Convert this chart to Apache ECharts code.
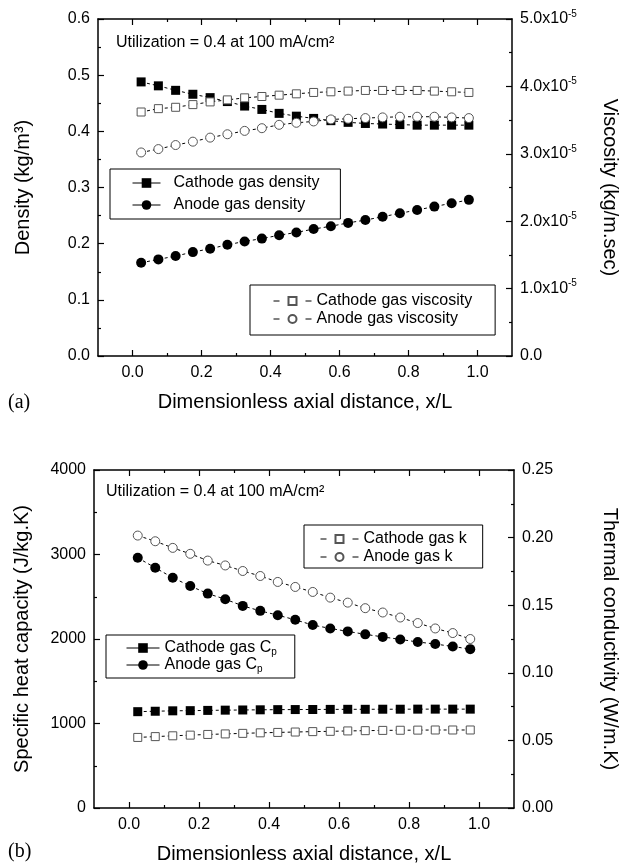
<!DOCTYPE html>
<html>
<head>
<meta charset="utf-8">
<script src="https://cdn.jsdelivr.net/npm/echarts@6/dist/echarts.min.js"></script>
<style>
html, body { margin: 0; padding: 0; background: #fff; }
#chart { width: 628px; height: 866px; }
</style>
</head>
<body>
<div id="chart"></div>
<script>
// x/L positions of the measured points
var xPos = [0.025, 0.075, 0.125, 0.175, 0.225, 0.275, 0.325, 0.375, 0.425, 0.475,
            0.525, 0.575, 0.625, 0.675, 0.725, 0.775, 0.825, 0.875, 0.925, 0.975];

// (a) density (kg/m3) and viscosity (kg/m.sec)
var cathodeDensity = [0.488, 0.481, 0.473, 0.466, 0.460, 0.453, 0.445, 0.439, 0.432, 0.427,
                      0.423, 0.419, 0.416, 0.414, 0.413, 0.412, 0.411, 0.411, 0.411, 0.411];
var anodeDensity = [0.166, 0.172, 0.178, 0.185, 0.191, 0.198, 0.204, 0.209, 0.215, 0.220,
                    0.226, 0.231, 0.237, 0.242, 0.248, 0.254, 0.260, 0.266, 0.272, 0.278];
var cathodeVisc = [3.62e-5, 3.67e-5, 3.69e-5, 3.73e-5, 3.77e-5, 3.80e-5, 3.83e-5, 3.85e-5, 3.87e-5, 3.89e-5,
                   3.91e-5, 3.92e-5, 3.93e-5, 3.94e-5, 3.94e-5, 3.94e-5, 3.94e-5, 3.93e-5, 3.92e-5, 3.91e-5];
var anodeVisc = [3.02e-5, 3.07e-5, 3.13e-5, 3.18e-5, 3.24e-5, 3.29e-5, 3.34e-5, 3.38e-5, 3.43e-5, 3.46e-5,
                 3.48e-5, 3.51e-5, 3.52e-5, 3.53e-5, 3.54e-5, 3.55e-5, 3.55e-5, 3.55e-5, 3.54e-5, 3.53e-5];

// (b) specific heat (J/kg.K) and thermal conductivity (W/m.K)
var cathodeCp = [1140, 1145, 1150, 1152, 1155, 1158, 1160, 1162, 1164, 1165,
                 1166, 1167, 1168, 1168, 1169, 1169, 1170, 1170, 1170, 1170];
var anodeCp = [2961, 2843, 2725, 2627, 2537, 2471, 2392, 2333, 2282, 2227,
               2165, 2125, 2090, 2055, 2025, 1995, 1965, 1940, 1912, 1880];
var cathodeK = [0.0522, 0.0528, 0.0534, 0.0539, 0.0544, 0.0548, 0.0552, 0.0556, 0.0559, 0.0562,
                0.0565, 0.0567, 0.0570, 0.0572, 0.0574, 0.0575, 0.0576, 0.0577, 0.0577, 0.0577];
var anodeK = [0.2015, 0.1973, 0.1924, 0.1880, 0.1830, 0.1794, 0.1753, 0.1716, 0.1672, 0.1635,
              0.1598, 0.1556, 0.1519, 0.1478, 0.1446, 0.1409, 0.1368, 0.1328, 0.1294, 0.1250];

// tick positions on x
var xMajor = [0, 0.2, 0.4, 0.6, 0.8, 1.0];
var xMinor = [0.1, 0.3, 0.5, 0.7, 0.9];

var FONT = '"Liberation Sans", Arial, sans-serif';
var chart = echarts.init(document.getElementById('chart'));

function pts(vals) {
  return xPos.map(function (x, i) { return [x, vals[i]]; });
}

var axisLine = { show: true, onZero: false, lineStyle: { color: '#000', width: 1.5 } };
var noLine = { show: false, onZero: false };
var tickLine = { color: '#000', width: 1.2 };

// 4 x axes for each panel: bottom major/minor ticks, top major/minor ticks
function xAxes(g, name) {
  return [
    { type: 'value', gridIndex: g, position: 'bottom', min: -0.1, max: 1.1,
      axisLine: axisLine, splitLine: { show: false },
      axisTick: { inside: true, length: 6, customValues: xMajor, lineStyle: tickLine },
      axisLabel: { customValues: xMajor, margin: 9, color: '#000', fontSize: 16, fontFamily: FONT,
                   formatter: function (v) { return v.toFixed(1); } },
      name: name, nameLocation: 'middle', nameGap: 36,
      nameTextStyle: { color: '#000', fontSize: 20, fontFamily: FONT } },
    { type: 'value', gridIndex: g, position: 'bottom', min: -0.1, max: 1.1,
      axisLine: noLine, splitLine: { show: false }, axisLabel: { show: false },
      axisTick: { inside: true, length: 3, customValues: xMinor, lineStyle: tickLine } },
    { type: 'value', gridIndex: g, position: 'top', min: -0.1, max: 1.1,
      axisLine: axisLine, splitLine: { show: false }, axisLabel: { show: false },
      axisTick: { inside: true, length: 6, customValues: xMajor, lineStyle: tickLine } },
    { type: 'value', gridIndex: g, position: 'top', min: -0.1, max: 1.1,
      axisLine: noLine, splitLine: { show: false }, axisLabel: { show: false },
      axisTick: { inside: true, length: 3, customValues: xMinor, lineStyle: tickLine } }
  ];
}

function yAxis(g, pos, min, max, interval, fmt, name, gap, rich) {
  return {
    type: 'value', gridIndex: g, position: pos, min: min, max: max, interval: interval,
    axisLine: axisLine, splitLine: { show: false },
    axisTick: { inside: true, length: 6, lineStyle: tickLine },
    minorTick: { show: true, splitNumber: 2, length: 3, lineStyle: tickLine },
    axisLabel: { margin: 8, color: '#000', fontSize: 16, fontFamily: FONT, formatter: fmt, rich: rich },
    name: name, nameLocation: 'middle', nameGap: gap, nameRotate: pos === 'right' ? -90 : 90,
    nameTextStyle: { color: '#000', fontSize: 20, fontFamily: FONT }
  };
}

function filled(name, sym, size, xi, yi, vals) {
  return { name: name, type: 'line', xAxisIndex: xi, yAxisIndex: yi, data: pts(vals),
    symbol: sym, symbolSize: size, showAllSymbol: true,
    itemStyle: { color: '#000' },
    lineStyle: { color: '#000', width: 1, type: [3, 3] } };
}
function open(name, sym, size, xi, yi, vals) {
  return { name: name, type: 'line', xAxisIndex: xi, yAxisIndex: yi, data: pts(vals),
    symbol: sym, symbolSize: size, showAllSymbol: true,
    itemStyle: { color: '#fff', borderColor: '#555', borderWidth: 1 },
    lineStyle: { color: '#000', width: 1, type: [3, 3] } };
}

var legendText = { color: '#000', fontSize: 16, fontFamily: FONT, lineHeight: 18 };
var cpRich = {
  t: { fontSize: 16, fontFamily: FONT, color: '#000', lineHeight: 18 },
  s: { fontSize: 10, fontFamily: FONT, color: '#000', lineHeight: 8, verticalAlign: 'bottom' }
};

var option = {
  animation: false,
  backgroundColor: '#fff',
  grid: [
    { left: 98, top: 19, width: 422, height: 337 },
    { left: 94, top: 470, width: 423, height: 338 }
  ],
  xAxis: xAxes(0, 'Dimensionless axial distance, x/L').concat(xAxes(1, 'Dimensionless axial distance, x/L')),
  yAxis: [
    yAxis(0, 'left', 0, 0.6, 0.1, function (v) { return v.toFixed(1); }, 'Density (kg/m³)', 65),
    yAxis(0, 'right', 0, 5e-5, 1e-5, function (v) {
        return v === 0 ? '0.0' : '{n|' + (v * 1e5).toFixed(1) + 'x10}{s|-5}';
      }, 'Viscosity (kg/m.sec)', 88,
      { n: { fontSize: 16, fontFamily: FONT, color: '#000', lineHeight: 20 },
        s: { fontSize: 10, fontFamily: FONT, color: '#000', lineHeight: 12, verticalAlign: 'top' } }),
    yAxis(1, 'left', 0, 4000, 1000, function (v) { return String(v); }, 'Specific heat capacity (J/kg.K)', 62),
    yAxis(1, 'right', 0, 0.25, 0.05, function (v) { return v.toFixed(2); }, 'Thermal conductivity (W/m.K)', 86)
  ],
  legend: [
    { orient: 'vertical', left: 110, top: 169, padding: [5, 21, 5, 22], itemGap: 4,
      itemWidth: 28, itemHeight: 12, selectedMode: false,
      borderColor: '#000', borderWidth: 1, lineStyle: { type: 'solid', width: 1 },
      textStyle: Object.assign({ padding: [0, 0, 0, 8] }, legendText),
      data: ['Cathode gas density', 'Anode gas density'] },
    { orient: 'vertical', left: 250, top: 285, padding: [7, 23, 7, 23], itemGap: 0,
      itemWidth: 38, itemHeight: 10, selectedMode: false,
      borderColor: '#000', borderWidth: 1, lineStyle: { type: [6, 26], width: 1 },
      textStyle: legendText,
      data: ['Cathode gas viscosity', 'Anode gas viscosity'] },
    { orient: 'vertical', left: 106, top: 635, padding: [5, 18, 4, 20], itemGap: 0,
      itemWidth: 33, itemHeight: 12, selectedMode: false,
      borderColor: '#000', borderWidth: 1, lineStyle: { type: 'solid', width: 1 },
      textStyle: { rich: cpRich },
      formatter: function (name) { return '{t|' + name.slice(0, -1) + '}{s|p}'; },
      data: ['Cathode gas Cp', 'Anode gas Cp'] },
    { orient: 'vertical', left: 304, top: 525, padding: [5, 16, 2, 16], itemGap: 0,
      itemWidth: 38, itemHeight: 10, selectedMode: false,
      borderColor: '#000', borderWidth: 1, lineStyle: { type: [6, 26], width: 1 },
      textStyle: legendText,
      data: ['Cathode gas k', 'Anode gas k'] }
  ],
  graphic: [
    { type: 'text', left: 116, top: 35,
      style: { text: 'Utilization = 0.4 at 100 mA/cm²', font: '16px ' + FONT, fill: '#000' } },
    { type: 'text', left: 106, top: 484,
      style: { text: 'Utilization = 0.4 at 100 mA/cm²', font: '16px ' + FONT, fill: '#000' } },
    { type: 'text', left: 8, top: 393,
      style: { text: '(a)', font: '20px "Liberation Serif", "Times New Roman", serif', fill: '#000' } },
    { type: 'text', left: 8, top: 842,
      style: { text: '(b)', font: '20px "Liberation Serif", "Times New Roman", serif', fill: '#000' } }
  ],
  series: [
    filled('Cathode gas density', 'rect', 9, 0, 0, cathodeDensity),
    filled('Anode gas density', 'circle', 10, 0, 0, anodeDensity),
    open('Cathode gas viscosity', 'rect', 8, 0, 1, cathodeVisc),
    open('Anode gas viscosity', 'circle', 9, 0, 1, anodeVisc),
    filled('Cathode gas Cp', 'rect', 9, 4, 2, cathodeCp),
    filled('Anode gas Cp', 'circle', 10, 4, 2, anodeCp),
    open('Cathode gas k', 'rect', 8, 4, 3, cathodeK),
    open('Anode gas k', 'circle', 9, 4, 3, anodeK)
  ]
};

chart.setOption(option);
</script>
</body>
</html>
